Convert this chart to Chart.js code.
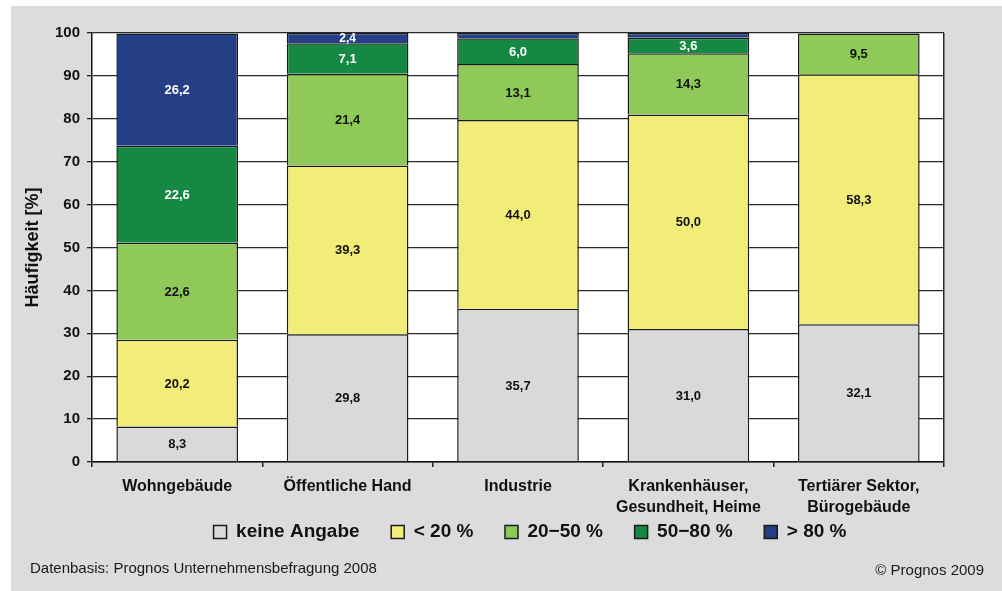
<!DOCTYPE html>
<html lang="de">
<head>
<meta charset="utf-8">
<title>Häufigkeit nach Sektoren</title>
<script src="https://cdn.jsdelivr.net/npm/chart.js@4/dist/chart.umd.min.js"></script>
<style>
  html, body { margin: 0; padding: 0; background: #ffffff; }
  #wrap { width: 1002px; height: 591px; position: relative; }
</style>
</head>
<body>
<div id="wrap"><canvas id="chart" width="1002" height="591"></canvas></div>
<script>
// Kategorien (Sektoren)
const categories = [
  'Wohngebäude',
  'Öffentliche Hand',
  'Industrie',
  ['Krankenhäuser,', 'Gesundheit, Heime'],
  ['Tertiärer Sektor,', 'Bürogebäude']
];

// Anteile je Klasse in Prozent
const seriesNames = ['keine Angabe', '< 20 %', '20\u221250 %', '50\u221280 %', '> 80 %'];
const keineAngabe = [8.3, 29.8, 35.7, 31.0, 32.1];
const unter20     = [20.2, 39.3, 44.0, 50.0, 58.3];
const von20bis50  = [22.6, 21.4, 13.1, 14.3, 9.5];
const von50bis80  = [22.6, 7.1, 6.0, 3.6, null];
const ueber80     = [26.2, 2.4, 1.2, 1.1, null];

// Achse
const yMin = 0;
const yMax = 100;
const yStep = 10;

const seriesColors = ['#d9d9d9', '#f2ec78', '#8fca58', '#158844', '#253f87'];
const labelColors  = ['#111111', '#111111', '#111111', '#ffffff', '#ffffff'];
const seriesValues = [keineAngabe, unter20, von20bis50, von50bis80, ueber80];

const FONT = '"Liberation Sans", Arial, Helvetica, sans-serif';
const LEGEND_FONT_SIZE = 19;
const LEGEND_PADDING = 31.6;
const LEGEND_CENTER = { x: 530, y: 532 };

const fmt = v => v.toFixed(1).replace('.', ',');

// Hintergrund: graue Fläche, weiße Plotfläche
const backgroundPlugin = {
  id: 'panelBackground',
  beforeDraw(chart) {
    const { ctx, chartArea } = chart;
    ctx.save();
    ctx.fillStyle = '#ffffff';
    ctx.fillRect(0, 0, chart.width, chart.height);
    ctx.fillStyle = '#dcdcdc';
    ctx.fillRect(11, 6, chart.width - 11, chart.height - 6);
    ctx.fillStyle = '#ffffff';
    ctx.fillRect(chartArea.left, chartArea.top,
                 chartArea.right - chartArea.left, chartArea.bottom - chartArea.top);
    ctx.restore();
  }
};

// Wertebeschriftung in den Segmenten
const valueLabelPlugin = {
  id: 'valueLabels',
  afterDatasetsDraw(chart) {
    const { ctx } = chart;
    ctx.save();
    ctx.textAlign = 'center';
    ctx.textBaseline = 'middle';
    chart.data.datasets.forEach((ds, di) => {
      const meta = chart.getDatasetMeta(di);
      if (meta.hidden) return;
      meta.data.forEach((bar, i) => {
        const v = ds.data[i];
        if (v == null || v < 2) return;
        const { x, y, base } = bar.getProps(['x', 'y', 'base'], true);
        ctx.font = 'bold ' + (v < 3 ? 12 : 13) + 'px ' + FONT;
        ctx.fillStyle = labelColors[di];
        ctx.fillText(fmt(v), x, (y + base) / 2 + 1);
      });
    });
    ctx.restore();
  }
};

// Quellenangaben unten
const footerPlugin = {
  id: 'footer',
  afterDraw(chart) {
    const { ctx } = chart;
    ctx.save();
    ctx.font = '15px ' + FONT;
    ctx.fillStyle = '#1a1a1a';
    ctx.textBaseline = 'middle';
    ctx.textAlign = 'left';
    ctx.fillText('Datenbasis: Prognos Unternehmensbefragung 2008', 30, 569);
    ctx.textAlign = 'right';
    ctx.fillText('\u00A9 Prognos 2009', 984, 571);
    ctx.restore();
  }
};

// Legende an ihren Platz unter den Achsenbeschriftungen setzen
const legendPlacePlugin = {
  id: 'legendPlace',
  afterLayout(chart) {
    const lg = chart.legend;
    if (!lg) return;
    const dx = LEGEND_CENTER.x - (lg.left + lg.right) / 2;
    const dy = LEGEND_CENTER.y - (lg.top + LEGEND_PADDING + LEGEND_FONT_SIZE / 2);
    lg.left += dx; lg.right += dx;
    lg.top += dy; lg.bottom += dy;
  }
};

const datasets = seriesNames.map((name, i) => ({
  label: name,
  data: seriesValues[i],
  backgroundColor: seriesColors[i],
  borderColor: '#1a1a1a',
  borderWidth: 1.5,
  categoryPercentage: 1.0,
  barPercentage: 0.714
}));

new Chart(document.getElementById('chart'), {
  type: 'bar',
  data: { labels: categories, datasets },
  plugins: [backgroundPlugin, valueLabelPlugin, footerPlugin, legendPlacePlugin],
  options: {
    responsive: false,
    animation: false,
    devicePixelRatio: 1,
    layout: { padding: { left: 14, right: 58, top: 33, bottom: 10.4 } },
    plugins: {
      tooltip: { enabled: false },
      legend: {
        position: 'bottom',
        labels: {
          boxWidth: 13,
          boxHeight: 13,
          padding: LEGEND_PADDING,
          color: '#111111',
          font: { family: FONT, size: LEGEND_FONT_SIZE, weight: 'bold' }
        }
      }
    },
    scales: {
      x: {
        stacked: true,
        afterFit(scale) { scale.height = 58; },
        grid: {
          offset: true,
          drawOnChartArea: true,
          color: ctx => (ctx.type === 'tick' ? 'rgba(0,0,0,0)' : '#2a2a2a'),
          lineWidth: 1.5,
          tickColor: '#222222',
          tickLength: 5
        },
        border: { display: true, color: '#111111', width: 1.5 },
        ticks: {
          color: '#111111',
          padding: 9.6,
          maxRotation: 0,
          autoSkip: false,
          font: { family: FONT, size: 16, weight: 'bold', lineHeight: 1.3 }
        }
      },
      y: {
        stacked: true,
        min: yMin,
        max: yMax,
        afterFit(scale) { scale.width = 78; },
        grid: {
          color: '#2a2a2a',
          lineWidth: 1.3,
          tickColor: '#222222',
          tickLength: 5
        },
        border: { display: true, color: '#111111', width: 1.5 },
        ticks: {
          stepSize: yStep,
          color: '#111111',
          padding: 7,
          font: { family: FONT, size: 15, weight: 'bold' }
        },
        title: {
          display: true,
          text: 'Häufigkeit [%]',
          color: '#111111',
          padding: { top: 8, bottom: 0 },
          font: { family: FONT, size: 18, weight: 'bold' }
        }
      }
    }
  }
});
</script>
</body>
</html>
